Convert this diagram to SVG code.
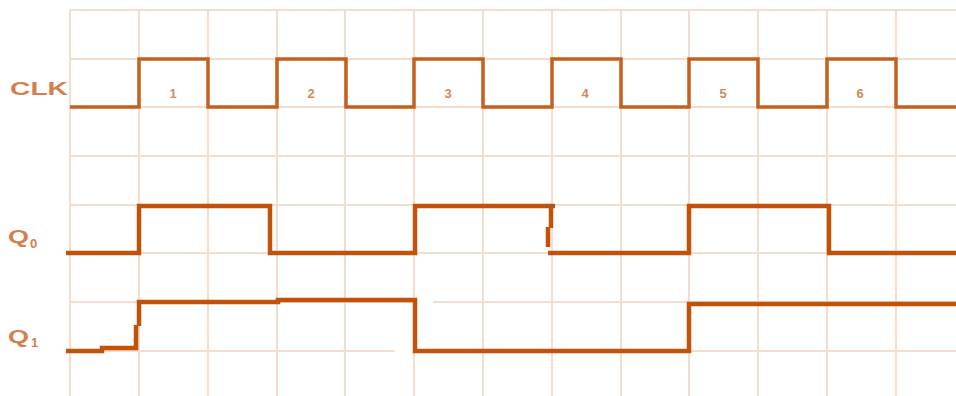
<svg xmlns="http://www.w3.org/2000/svg" width="956" height="396" viewBox="0 0 956 396">
<style>
.grid{stroke:#f5ddcd;stroke-width:2;fill:none}
.clk{stroke:#c65f1e;stroke-width:3.5;fill:none;stroke-linejoin:miter}
.q{stroke:#c1520a;stroke-width:4.5;fill:none;stroke-linejoin:miter}
.lbl{font-family:"Liberation Sans",Arial,sans-serif;font-weight:bold;fill:#d4804e}
.num{font-family:"Liberation Sans",Arial,sans-serif;font-weight:bold;font-size:13px;fill:#d08a5c;text-anchor:middle}
</style>
<rect width="956" height="396" fill="#ffffff"/>
<g id="grid" class="grid">
<path d="M70 10V396M139 10V396M208 10V396M277 10V396M345 10V396M414 10V396M483 10V396M552 10V396M621 10V396M689 10V396M758 10V396M827 10V396M896 10V396"/>
<path d="M70 10H956M70 59H956M70 107H956M70 156H956M70 205H956M70 253H956M70 302H415M433 302H956M70 351H395M415 351H956"/>
</g>
<g id="labels">
<text class="lbl" x="10" y="95" font-size="18" textLength="58" lengthAdjust="spacingAndGlyphs">CLK</text>
<text class="lbl" x="8" y="243" font-size="18" textLength="21" lengthAdjust="spacingAndGlyphs">Q</text>
<text class="lbl" x="30" y="248" font-size="13">0</text>
<text class="lbl" x="8" y="343" font-size="18" textLength="21" lengthAdjust="spacingAndGlyphs">Q</text>
<text class="lbl" x="31" y="347" font-size="13">1</text>
</g>
<g id="clk-numbers">
<text class="num" x="173" y="98">1</text>
<text class="num" x="311" y="98">2</text>
<text class="num" x="448" y="98">3</text>
<text class="num" x="585" y="98">4</text>
<text class="num" x="723" y="98">5</text>
<text class="num" x="860" y="98">6</text>
</g>
<g id="connectors">
<path id="clk" class="clk" d="M70 107H139V59H208V107H277V59H346V107H414V59H483V107H552V59H621V107H689V59H758V107H827V59H896V107H956"/>
<path id="q0" class="q" d="M66 253H139V206H270V253H415V206H555"/>
<path class="q" d="M551 206V228M548 227V247"/>
<path class="q" d="M548 253H689V206H829V253H956"/>
<path id="q1" class="q" d="M66 351H102V348H136V325M139 326V302H278V300H415V351H689V304H956"/>
</g>
</svg>
